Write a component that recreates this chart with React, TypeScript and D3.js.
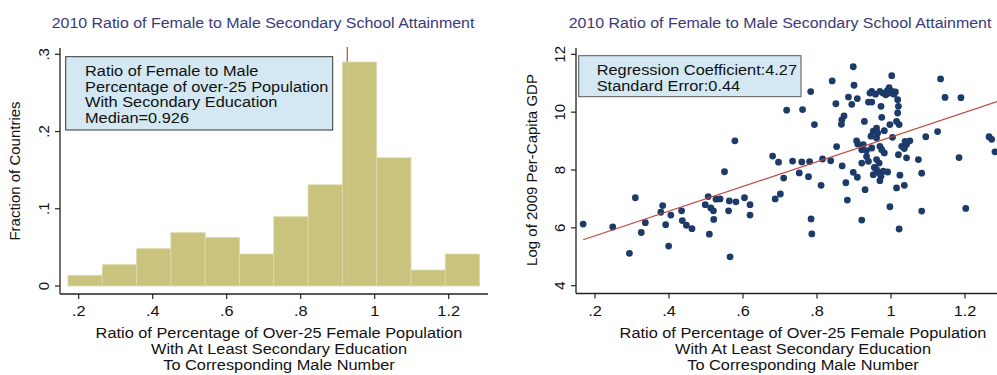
import React from "react";
import * as d3 from "d3";

// ---------- DATA ----------
const TITLE = "2010 Ratio of Female to Male Secondary School Attainment";
const X_TITLE_LINES = [
  "Ratio of Percentage of Over-25 Female Population",
  "With At Least Secondary Education",
  "To Corresponding Male Number",
];
const X_TICKS = [0.2, 0.4, 0.6, 0.8, 1.0, 1.2];
const X_TICK_LABELS = [".2", ".4", ".6", ".8", "1", "1.2"];

// Histogram
const HIST_Y_TICKS = [0, 0.1, 0.2, 0.3];
const HIST_Y_TICK_LABELS = ["0", ".1", ".2", ".3"];
const HIST_BIN_START = 0.171;
const HIST_BIN_WIDTH = 0.0927;
const HIST_FRACTIONS = [0.0138, 0.0276, 0.0483, 0.069, 0.0628, 0.0414, 0.0897, 0.131, 0.29, 0.166, 0.0207, 0.0414];
const MEDIAN = 0.926;
const HIST_NOTE = [
  "Ratio of Female to Male",
  "Percentage of over-25 Population",
  "With Secondary Education",
  "Median=0.926",
];

// Scatter
const SCAT_Y_TICKS = [4, 6, 8, 10, 12];
const SCAT_Y_TICK_LABELS = ["4", "6", "8", "10", "12"];
const REG_SLOPE = 4.27;
const REG_INTERCEPT = 4.87;
const REG_X_RANGE = [0.168, 1.32];
const SCAT_NOTE = ["Regression Coefficient:4.27", "Standard Error:0.44"];

const POINTS_LOW: [number, number][] = [
  [0.168, 6.13], [0.248, 6.03], [0.293, 5.12], [0.309, 7.04], [0.325, 5.84], [0.336, 6.18],
  [0.378, 6.54], [0.383, 6.77], [0.391, 6.11], [0.399, 5.37], [0.405, 6.44], [0.434, 6.59],
  [0.436, 6.25], [0.447, 6.09], [0.462, 5.97], [0.498, 6.8], [0.506, 7.08], [0.509, 5.78],
  [0.513, 6.69], [0.52, 6.59], [0.521, 6.29], [0.527, 6.99], [0.538, 7.0], [0.55, 7.94],
  [0.561, 6.59], [0.563, 6.93], [0.565, 5.0], [0.578, 9.01], [0.581, 6.9], [0.604, 7.04],
  [0.619, 6.8], [0.619, 6.44],
];
const POINTS_MID: [number, number][] = [
  [0.68, 8.48], [0.696, 8.27], [0.687, 7.0], [0.701, 7.17], [0.71, 7.72], [0.718, 10.07],
  [0.734, 8.31], [0.752, 7.9], [0.759, 8.28], [0.761, 10.09], [0.777, 7.77], [0.78, 8.29],
  [0.783, 10.71], [0.784, 6.31], [0.786, 5.79], [0.793, 9.57], [0.811, 7.47], [0.815, 8.38],
  [0.837, 8.32], [0.841, 11.08], [0.851, 10.29], [0.853, 8.81], [0.866, 9.58], [0.867, 9.73],
  [0.873, 9.87], [0.868, 8.14], [0.878, 7.56], [0.882, 6.96], [0.885, 10.52], [0.894, 10.27],
  [0.898, 11.57], [0.9, 10.93], [0.898, 7.92], [0.909, 10.47], [0.907, 9.01], [0.91, 8.9],
  [0.909, 7.75], [0.921, 6.27],
];
const POINTS_CLUSTER: [number, number][] = [
  [0.921, 8.7], [0.925, 8.88], [0.928, 9.68], [0.934, 8.67], [0.934, 8.47], [0.939, 8.3],
  [0.921, 8.24], [0.93, 7.32], [0.939, 10.35], [0.948, 10.35], [0.943, 10.66], [0.948, 10.72],
  [0.961, 9.45], [0.952, 9.34], [0.964, 9.28], [0.946, 9.17], [0.961, 9.11], [0.982, 9.36],
  [0.948, 8.76], [0.97, 8.82], [0.975, 8.7], [0.982, 8.59], [0.961, 8.36], [0.968, 8.24],
  [0.955, 8.09], [0.961, 8.01], [0.968, 7.9], [0.979, 7.96], [0.991, 7.93], [0.952, 7.84],
  [0.973, 7.78], [0.97, 7.63], [0.973, 10.2], [0.975, 9.82], [0.997, 9.57], [0.995, 10.85],
  [0.958, 10.62], [0.97, 10.72], [0.978, 10.66], [0.986, 10.6], [0.99, 10.74], [0.996, 10.66],
  [1.003, 10.72], [1.008, 10.62], [1.012, 10.7], [1.002, 11.26], [1.018, 10.43], [1.02, 10.2],
  [1.018, 9.97], [1.015, 9.68], [1.022, 9.57], [1.004, 9.13], [0.997, 6.73],
];
const POINTS_HIGH: [number, number][] = [
  [1.038, 8.99], [1.051, 9.01], [1.029, 8.82], [1.042, 8.88], [1.036, 8.74], [1.074, 8.36],
  [1.02, 8.53], [1.042, 8.42], [1.024, 7.82], [1.015, 7.38], [1.036, 7.47], [1.083, 7.89],
  [1.094, 9.15], [1.083, 6.58], [1.022, 5.96], [1.126, 9.33], [1.134, 11.15], [1.146, 10.51],
  [1.184, 8.43], [1.189, 10.5], [1.202, 6.67], [1.265, 9.15], [1.272, 9.06], [1.281, 8.63],
];
const SCATTER = [...POINTS_LOW, ...POINTS_MID, ...POINTS_CLUSTER, ...POINTS_HIGH];

// ---------- STYLE ----------
const FONT = "'Liberation Sans', Arial, Helvetica, sans-serif";
const TITLE_COLOR = "#383a7a";
const AXIS_COLOR = "#222";
const BAR_FILL = "#c9c37d";
const NOTE_FILL = "#d3e8f3";
const DOT_COLOR = "#1d3b69";
const RED = "#c0433c";
const SX = 1.09; // horizontal stretch of the original picture's lettering

function HText({ x, y, size = 15, anchor = "start", fill = "#111", sx = SX, children }: any) {
  return (
    <text transform={`translate(${x},${y}) scale(${sx},1)`} textAnchor={anchor} fontSize={size} fill={fill}>
      {children}
    </text>
  );
}

function XAxis({ x, y0, x0, x1 }: { x: d3.ScaleLinear<number, number>; y0: number; x0: number; x1: number }) {
  return (
    <g>
      <line x1={x0} x2={x1} y1={y0} y2={y0} stroke={AXIS_COLOR} strokeWidth={1.3} />
      {X_TICKS.map((t, i) => (
        <g key={i}>
          <line x1={x(t)} x2={x(t)} y1={y0} y2={y0 + 5} stroke={AXIS_COLOR} strokeWidth={1.2} />
          <HText x={x(t)} y={y0 + 22} anchor="middle">
            {X_TICK_LABELS[i]}
          </HText>
        </g>
      ))}
    </g>
  );
}

function YAxis({ y, x0, y0, y1, ticks, labels }: { y: d3.ScaleLinear<number, number>; x0: number; y0: number; y1: number; ticks: number[]; labels: string[] }) {
  return (
    <g>
      <line x1={x0} x2={x0} y1={y0} y2={y1} stroke={AXIS_COLOR} strokeWidth={1.3} />
      {ticks.map((t, i) => (
        <g key={i}>
          <line x1={x0 - 5} x2={x0} y1={y(t)} y2={y(t)} stroke={AXIS_COLOR} strokeWidth={1.2} />
          <text
            transform={`translate(${x0 - 11},${y(t)}) rotate(-90)`}
            textAnchor="middle"
            fontSize={15}
            fill="#111"
          >
            {labels[i]}
          </text>
        </g>
      ))}
    </g>
  );
}

function XTitle({ cx }: { cx: number }) {
  return (
    <g>
      {X_TITLE_LINES.map((l, i) => (
        <HText key={i} x={cx} y={338 + i * 16} anchor="middle">
          {l}
        </HText>
      ))}
    </g>
  );
}

export default function App() {
  // Left panel scales
  const xL = d3.scaleLinear().domain([0.2, 1.2]).range([78.7, 448.7]);
  const yL = d3.scaleLinear().domain([0, 0.3]).range([286, 54.3]);
  // Right panel scales
  const xR = d3.scaleLinear().domain([0.2, 1.2]).range([595, 965]);
  const yR = d3.scaleLinear().domain([4, 12]).range([285.7, 54.3]);

  const bins = HIST_FRACTIONS.map((f, i) => ({
    x0: HIST_BIN_START + i * HIST_BIN_WIDTH,
    x1: HIST_BIN_START + (i + 1) * HIST_BIN_WIDTH,
    f,
  }));

  const regLine = d3
    .line<number>()
    .x((v) => xR(v))
    .y((v) => yR(REG_INTERCEPT + REG_SLOPE * v));

  return (
    <svg
      width={997}
      height={375}
      style={{ position: "absolute", left: 0, top: 0, background: "#fff" }}
      fontFamily={FONT}
    >
      <rect width={997} height={375} fill="#fff" />

      {/* ---------- Left: histogram ---------- */}
      <HText x={263} y={28} anchor="middle" size={14.5} fill={TITLE_COLOR} sx={1.1}>
        {TITLE}
      </HText>
      <line x1={xL(MEDIAN)} x2={xL(MEDIAN)} y1={47} y2={yL(0)} stroke={RED} strokeWidth={1.2} />
      {bins.map((b, i) => (
        <rect
          key={i}
          x={xL(b.x0)}
          y={yL(b.f)}
          width={xL(b.x1) - xL(b.x0)}
          height={yL(0) - yL(b.f)}
          fill={BAR_FILL}
          stroke="#ddd9ad"
          strokeWidth={0.8}
        />
      ))}
      <line x1={xL(MEDIAN)} x2={xL(MEDIAN)} y1={yL(0.29)} y2={yL(0)} stroke="#e6c3a6" strokeWidth={0.8} opacity={0.6} />
      <XAxis x={xL} y0={294} x0={60} x1={488} />
      <YAxis y={yL} x0={60} y0={48} y1={294} ticks={HIST_Y_TICKS} labels={HIST_Y_TICK_LABELS} />
      <text transform={`translate(20,171) rotate(-90)`} textAnchor="middle" fontSize={15} fill="#111">
        Fraction of Countries
      </text>
      <XTitle cx={279} />
      <rect x={65.7} y={56.7} width={267} height={73.3} fill={NOTE_FILL} stroke="#333" strokeWidth={1} />
      {HIST_NOTE.map((l, i) => (
        <HText key={i} x={85} y={76 + i * 15.6}>
          {l}
        </HText>
      ))}

      {/* ---------- Right: scatter ---------- */}
      <HText x={780} y={28} anchor="middle" size={14.5} fill={TITLE_COLOR} sx={1.1}>
        {TITLE}
      </HText>
      {SCATTER.map(([vx, vy], i) => (
        <circle key={i} cx={xR(vx)} cy={yR(vy)} r={3.4} fill={DOT_COLOR} />
      ))}
      <path d={regLine(REG_X_RANGE) || ""} fill="none" stroke={RED} strokeWidth={1.2} />
      <XAxis x={xR} y0={293.5} x0={576} x1={1000} />
      <YAxis y={yR} x0={576} y0={48} y1={293.5} ticks={SCAT_Y_TICKS} labels={SCAT_Y_TICK_LABELS} />
      <text transform={`translate(537,170) rotate(-90)`} textAnchor="middle" fontSize={15} fill="#111">
        Log of 2009 Per-Capita GDP
      </text>
      <XTitle cx={803} />
      <rect x={578.7} y={55.7} width={222.3} height={41} fill={NOTE_FILL} stroke="#555" strokeWidth={1} />
      {SCAT_NOTE.map((l, i) => (
        <HText key={i} x={596.7} y={74.5 + i * 16}>
          {l}
        </HText>
      ))}
    </svg>
  );
}
